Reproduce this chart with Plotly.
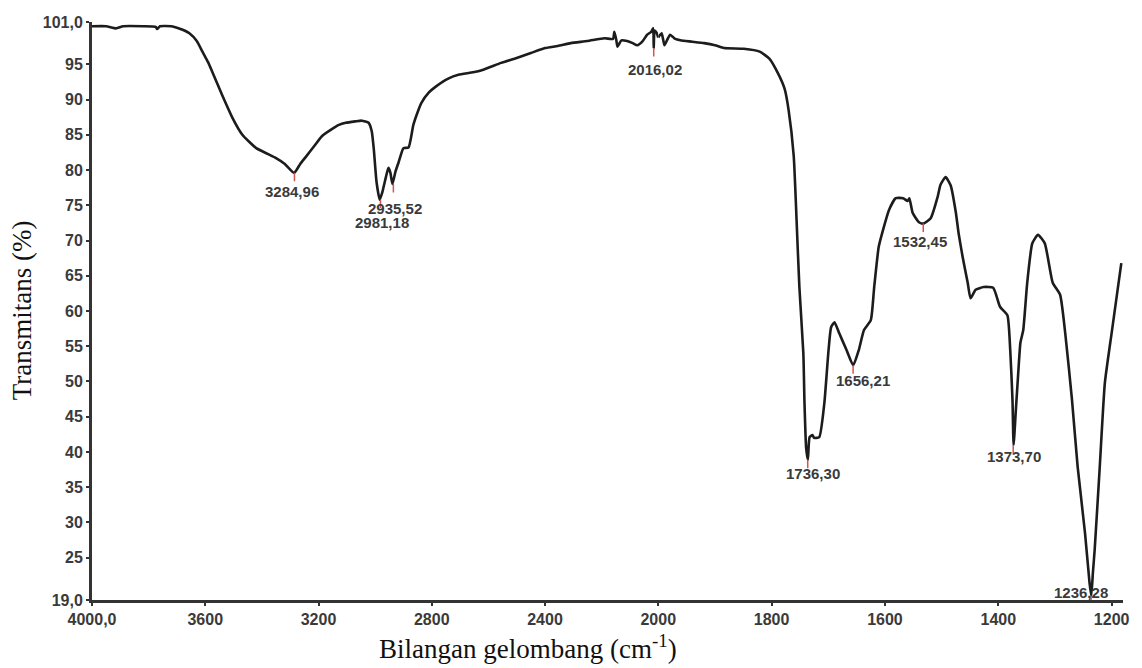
import plotly.graph_objects as go

# ---- data (wavenumber cm-1, transmittance %) ----
wavenumber = [
    4000, 3950, 3915, 3890, 3820, 3775, 3770, 3760, 3720, 3700, 3680, 3656, 3630, 3610,
    3590, 3575, 3540, 3504, 3469, 3420, 3380, 3350, 3320, 3286, 3264, 3244, 3215, 3188,
    3153, 3128, 3104, 3070, 3047, 3023, 3012, 3005, 2995, 2984, 2975, 2962, 2953, 2946,
    2939, 2928, 2917, 2900, 2882, 2865, 2850, 2837, 2810, 2787, 2740, 2706, 2636, 2555,
    2500, 2450, 2400, 2355, 2309, 2250, 2190, 2160, 2155, 2148, 2144, 2130, 2110, 2090,
    2074, 2055, 2039, 2025, 2018, 2016, 2013, 2006, 2000,
    1994, 1989, 1984, 1979, 1970, 1961, 1940, 1919, 1900, 1884, 1849, 1821, 1804, 1788,
    1777, 1770, 1761, 1756, 1751, 1744, 1742, 1739, 1736, 1733, 1728, 1725, 1716, 1707,
    1700, 1695, 1689, 1681, 1668, 1656, 1646, 1637, 1625, 1619, 1611, 1602, 1593, 1581,
    1568, 1560, 1557, 1551, 1540, 1532, 1519, 1507, 1502, 1493, 1484, 1475, 1470, 1463,
    1454, 1449, 1440, 1426, 1409, 1397, 1384, 1379, 1375, 1373, 1369, 1365, 1361, 1356,
    1349, 1340, 1330, 1318, 1304, 1291, 1282, 1270, 1260, 1247, 1239, 1236, 1233, 1230,
    1221, 1212, 1200, 1183,
]
transmittance = [
    100.4, 100.4, 100.1, 100.4, 100.4, 100.3, 100.0, 100.4, 100.4, 100.2, 99.9, 99.4, 98.3, 96.8,
    95.3, 93.9, 90.6, 87.4, 85.0, 83.1, 82.3, 81.7, 80.9, 79.6, 80.9, 81.9, 83.4, 84.8,
    85.8, 86.4, 86.7, 86.9, 87.0, 86.7, 85.5, 83.1, 78.3, 75.8, 76.8, 79.0, 80.3, 79.6,
    78.0, 79.8, 81.1, 83.1, 83.2, 86.4, 88.2, 89.5, 91.0, 91.8, 93.0, 93.5, 94.0, 95.2,
    95.9, 96.6, 97.3, 97.6, 98.0, 98.3, 98.7, 98.6, 99.6, 98.4, 97.5, 98.4, 98.3, 98.0,
    97.7, 98.3, 99.2, 99.6, 100.1, 97.3, 99.8, 99.5, 98.8,
    99.4, 97.7, 98.5, 99.2, 98.6, 98.4, 98.2, 98.0, 97.7, 97.3, 97.2, 96.8, 95.8, 93.6,
    91.5, 88.5, 82.0, 73.0, 63.4, 54.0, 47.0, 40.5, 38.9, 42.1, 42.4, 42.0, 42.1, 46.9,
    54.0, 57.7, 58.4, 56.9, 54.5, 52.3, 54.5, 57.3, 58.7, 63.4, 69.1, 71.9, 74.3, 76.0,
    76.0, 75.6, 76.0, 73.9, 72.6, 72.4, 73.2, 76.2, 77.9, 79.0, 77.8, 74.0, 71.0, 67.7,
    64.0, 61.8, 63.0, 63.4, 63.3, 60.6, 59.4, 54.5, 47.4, 41.0, 46.0, 51.0, 55.5, 57.3,
    64.0, 69.6, 70.8, 69.6, 64.0, 62.3, 56.9, 47.4, 37.9, 28.5, 21.4, 19.6, 23.0, 26.1,
    37.9, 49.8, 56.9, 66.8,
]

peak_labels = ["3284,96", "2981,18", "2935,52", "2016,02", "1736,30", "1656,21",
               "1532,45", "1373,70", "1236,28"]
peak_wn = [3284.96, 2981.18, 2935.52, 2016.02, 1736.30, 1656.21, 1532.45, 1373.70, 1236.28]
peak_t = [79.6, 75.8, 78.0, 97.3, 38.9, 52.3, 72.4, 41.0, 19.6]

y_tickvals = [19, 25, 30, 35, 40, 45, 50, 55, 60, 65, 70, 75, 80, 85, 90, 95, 101]
y_ticktext = ["19,0", "25", "30", "35", "40", "45", "50", "55", "60", "65", "70",
              "75", "80", "85", "90", "95", "101,0"]
x1_tickvals = [4000, 3600, 3200, 2800, 2400]
x1_ticktext = ["4000,0", "3600", "3200", "2800", "2400"]
x2_tickvals = [2000, 1800, 1600, 1400, 1200]
x2_ticktext = ["2000", "1800", "1600", "1400", "1200"]

# ---- split at 2000 cm-1 (scale change of the instrument chart) ----
hi_wn = [w for w in wavenumber if w >= 2000]
hi_t = [t for w, t in zip(wavenumber, transmittance) if w >= 2000]
lo_wn = [w for w in wavenumber if w <= 2000]
lo_t = [t for w, t in zip(wavenumber, transmittance) if w <= 2000]

LINE = dict(color="#1c1c1c", width=2.6, shape="spline", smoothing=0.5)
fig = go.Figure()
fig.add_trace(go.Scatter(x=hi_wn, y=hi_t, mode="lines", line=LINE, xaxis="x", yaxis="y",
                         showlegend=False))
fig.add_trace(go.Scatter(x=lo_wn, y=lo_t, mode="lines", line=LINE, xaxis="x2", yaxis="y",
                         showlegend=False))

split = 569 / 1036
tickfont = dict(family="Liberation Sans", size=16, color="#3a3a3a", weight="bold")
axis_common = dict(showline=True, linecolor="#333", linewidth=3, ticks="outside",
                   ticklen=3, tickwidth=2, tickcolor="#333", showgrid=False,
                   zeroline=False, tickfont=tickfont)

fig.update_layout(
    width=1142, height=668,
    margin=dict(l=92, r=14, t=22, b=68),
    plot_bgcolor="white", paper_bgcolor="white",
    xaxis=dict(domain=[0, split], range=[4000, 2000], tickvals=x1_tickvals,
               ticktext=x1_ticktext, anchor="y", ticklabeloverflow="allow", **axis_common),
    xaxis2=dict(domain=[split, 1], range=[2000, 1180], tickvals=x2_tickvals,
                ticktext=x2_ticktext, anchor="y", ticklabeloverflow="allow", **axis_common),
    yaxis=dict(range=[19, 101], tickvals=y_tickvals, ticktext=y_ticktext, **axis_common),
)

# label offsets (label placement relative to the band minimum)
label_dx = [-10, 4, 4, 4, 10, 18, -5, 2, -17]
label_dy = [-2.7, -3.2, -3.4, -3.1, -1.9, -2.2, -2.5, -1.7, 0.5]
for lab, w, t, dx, dy in zip(peak_labels, peak_wn, peak_t, label_dx, label_dy):
    xr = "x" if w >= 2000 else "x2"
    fig.add_annotation(x=w - dx, y=t + dy, xref=xr, yref="y", text=lab, showarrow=False,
                       font=dict(family="Liberation Sans", size=15, color="#3a3a3a",
                                 weight="bold"))
    fig.add_shape(type="line", xref=xr, yref="y", x0=w, x1=w, y0=t, y1=t - 1.2,
                  line=dict(color="#d9534f", width=1.5))

fig.add_annotation(text="Bilangan gelombang (cm<sup>-1</sup>)", xref="paper", yref="paper",
                   x=(530 - 92) / 1036, y=-(647 - 600) / 578, xanchor="center",
                   yanchor="middle", showarrow=False,
                   font=dict(family="Liberation Serif", size=27, color="#111"))
fig.add_annotation(text="Transmitans (%)", xref="paper", yref="paper",
                   x=-(92 - 22) / 1036, y=(600 - 310) / 578, xanchor="center",
                   yanchor="middle", showarrow=False, textangle=-90,
                   font=dict(family="Liberation Serif", size=27, color="#111"))

fig.write_html("out.html", config={"displayModeBar": False},
               post_script="document.body.style.margin='0px';")
